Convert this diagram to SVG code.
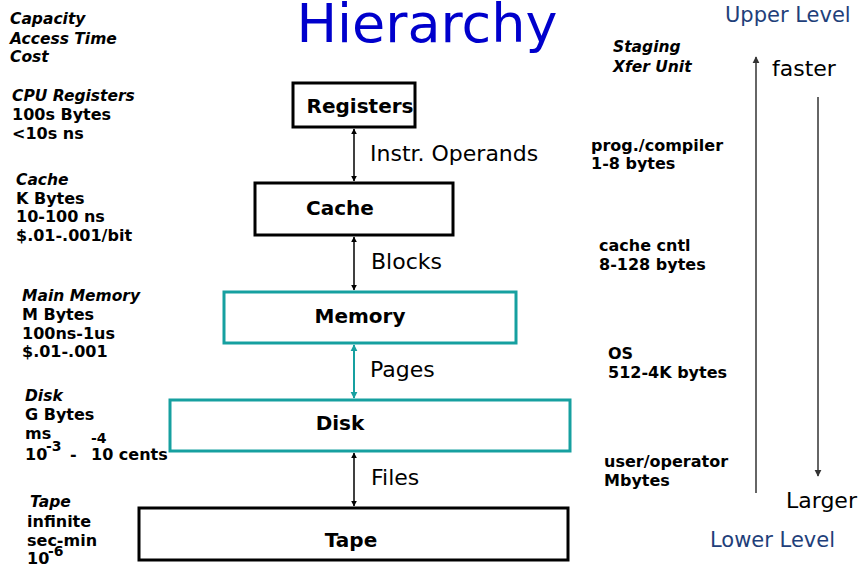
<svg xmlns="http://www.w3.org/2000/svg" width="858" height="566" viewBox="0 0 858 566">
  <style>
    text { font-family: "DejaVu Sans", "Noto Sans", sans-serif; fill: #000; }
    .title { font-size: 54px; fill: #0000cc; }
    .level { font-size: 21px; fill: #1f3f7a; }
    .side { font-size: 22px; }
    .head { font-size: 15.5px; font-weight: bold; font-style: italic; }
    .info { font-size: 16px; font-weight: bold; }
    .sup { font-size: 14px; font-weight: bold; }
    .node { font-size: 20px; font-weight: bold; }
    .lbl { font-size: 22px; }
    .box { fill: #fff; stroke: #000; stroke-width: 3; }
    .tbox { fill: #fff; stroke: #16a0a0; stroke-width: 3; }
    .link { stroke: #000; stroke-width: 1.5; fill: none; }
    .tlink { stroke: #16a0a0; stroke-width: 2; fill: none; }
    .trend { stroke: #333; stroke-width: 1.5; fill: none; }
  </style>
  <defs>
    <marker id="ah" viewBox="0 0 10 10" refX="9" refY="5" markerWidth="6" markerHeight="7" markerUnits="userSpaceOnUse" orient="auto-start-reverse">
      <path d="M0,0 L10,5 L0,10 z" fill="#000"/>
    </marker>
    <marker id="ahT" viewBox="0 0 10 10" refX="9" refY="5" markerWidth="7" markerHeight="8" markerUnits="userSpaceOnUse" orient="auto-start-reverse">
      <path d="M0,0 L10,5 L0,10 z" fill="#16a0a0"/>
    </marker>
    <marker id="ahS" viewBox="0 0 10 10" refX="9" refY="5" markerWidth="7" markerHeight="9" markerUnits="userSpaceOnUse" orient="auto">
      <path d="M0,0 L10,5 L0,10 z" fill="#333"/>
    </marker>
  </defs>

  <!-- title -->
  <text class="title" x="427" y="42" text-anchor="middle">Hierarchy</text>

  <!-- column headings -->
  <g id="left-heading">
    <text class="head" x="10" y="24">Capacity</text>
    <text class="head" x="10" y="44">Access Time</text>
    <text class="head" x="10" y="62">Cost</text>
  </g>
  <g id="right-heading">
    <text class="head" x="613" y="52">Staging</text>
    <text class="head" x="613" y="72">Xfer Unit</text>
  </g>

  <!-- level characteristics -->
  <g id="info-registers">
    <text class="head" x="12" y="101">CPU Registers</text>
    <text class="info" x="12" y="120">100s Bytes</text>
    <text class="info" x="12" y="139">&lt;10s ns</text>
  </g>
  <g id="info-cache">
    <text class="head" x="16" y="185">Cache</text>
    <text class="info" x="16" y="204">K Bytes</text>
    <text class="info" x="16" y="222">10-100 ns</text>
    <text class="info" x="16" y="241">$.01-.001/bit</text>
  </g>
  <g id="info-memory">
    <text class="head" x="22" y="301">Main Memory</text>
    <text class="info" x="22" y="320">M Bytes</text>
    <text class="info" x="22" y="339">100ns-1us</text>
    <text class="info" x="22" y="357">$.01-.001</text>
  </g>
  <g id="info-disk">
    <text class="head" x="25" y="401">Disk</text>
    <text class="info" x="25" y="420">G Bytes</text>
    <text class="info" x="25" y="439">ms</text>
    <text class="info" x="25" y="460">10</text>
    <text class="sup" x="46" y="451">-3</text>
    <text class="info" x="70" y="460">-</text>
    <text class="sup" x="91" y="443">-4</text>
    <text class="info" x="91" y="460">10 cents</text>
  </g>
  <g id="info-tape">
    <text class="head" x="30" y="507">Tape</text>
    <text class="info" x="27" y="527">infinite</text>
    <text class="info" x="27" y="546">sec-min</text>
    <text class="info" x="27" y="564">10</text>
    <text class="sup" x="48" y="556">-6</text>
  </g>

  <!-- transfer units -->
  <g id="xfer-1">
    <text class="info" x="591" y="151">prog./compiler</text>
    <text class="info" x="591" y="169">1-8 bytes</text>
  </g>
  <g id="xfer-2">
    <text class="info" x="599" y="251">cache cntl</text>
    <text class="info" x="599" y="270">8-128 bytes</text>
  </g>
  <g id="xfer-3">
    <text class="info" x="608" y="359">OS</text>
    <text class="info" x="608" y="378">512-4K bytes</text>
  </g>
  <g id="xfer-4">
    <text class="info" x="604" y="467">user/operator</text>
    <text class="info" x="604" y="486">Mbytes</text>
  </g>

  <!-- speed / size trend -->
  <g id="trend">
    <text class="level" x="725" y="22">Upper Level</text>
    <text class="side" x="772" y="76">faster</text>
    <text class="side" x="786" y="508">Larger</text>
    <text class="level" x="710" y="547">Lower Level</text>
  </g>

  <!-- connectors -->
  <g id="connectors">
    <line class="link" x1="354" y1="129" x2="354" y2="181" marker-start="url(#ah)" marker-end="url(#ah)"/>
    <line class="link" x1="354" y1="237" x2="354" y2="290" marker-start="url(#ah)" marker-end="url(#ah)"/>
    <line class="tlink" x1="354" y1="345" x2="354" y2="398" marker-start="url(#ahT)" marker-end="url(#ahT)"/>
    <line class="link" x1="354" y1="453" x2="354" y2="506" marker-start="url(#ah)" marker-end="url(#ah)"/>
    <line class="trend" x1="756" y1="493" x2="756" y2="57" marker-end="url(#ahS)"/>
    <line class="trend" x1="818" y1="97" x2="818" y2="476" marker-end="url(#ahS)"/>
    <text class="lbl" x="370" y="161">Instr. Operands</text>
    <text class="lbl" x="371" y="269">Blocks</text>
    <text class="lbl" x="370" y="377">Pages</text>
    <text class="lbl" x="371" y="485">Files</text>
  </g>

  <!-- hierarchy levels -->
  <g id="registers">
    <rect class="box" x="293" y="83" width="122" height="44"/>
    <text class="node" x="360" y="113" text-anchor="middle">Registers</text>
  </g>
  <g id="cache">
    <rect class="box" x="255" y="183" width="198" height="52"/>
    <text class="node" x="340" y="215" text-anchor="middle">Cache</text>
  </g>
  <g id="memory">
    <rect class="tbox" x="224" y="292" width="292" height="51"/>
    <text class="node" x="360" y="323" text-anchor="middle">Memory</text>
  </g>
  <g id="disk">
    <rect class="tbox" x="170" y="400" width="400" height="51"/>
    <text class="node" x="340" y="430" text-anchor="middle">Disk</text>
  </g>
  <g id="tape">
    <rect class="box" x="139" y="508" width="429" height="52"/>
    <text class="node" x="351" y="547" text-anchor="middle">Tape</text>
  </g>
</svg>
